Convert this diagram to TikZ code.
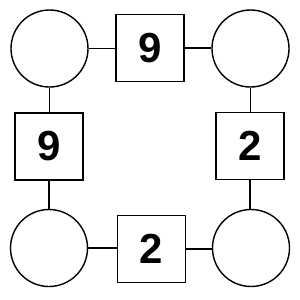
\documentclass[tikz,border=0pt]{standalone}
\usepackage{fontspec}
\setmainfont{Liberation Sans}
\begin{document}
\begin{tikzpicture}[x=1pt,y=-1pt,
  circ/.style={draw,circle,line width=1.4pt,minimum size=77pt,inner sep=0pt},
  sq/.style={draw,rectangle,line width=1.4pt,minimum width=68pt,minimum height=67pt,inner sep=0pt,font=\fontsize{42}{42}\selectfont\bfseries},
  conn/.style={line width=1.4pt}]
\useasboundingbox (0,0) rectangle (300,300);
\node[circ] (c1) at (49.5,48.5) {};
\node[circ] (c2) at (250.5,48.5) {};
\node[circ] (c3) at (49,248) {};
\node[circ] (c4) at (251,248) {};
\node[sq] (s1) at (150,48) {9};
\node[sq] (s2) at (49,146.5) {9};
\node[sq] (s3) at (250,146) {2};
\node[sq] (s4) at (151.5,249) {2};
\draw[conn] (c1.east) -- (c1.east -| s1.west);
\draw[conn] (s1.east) -- (s1.east -| c2.west);
\draw[conn] (c1.south) -- (c1.south |- s2.north);
\draw[conn] (s2.south) -- (s2.south |- c3.north);
\draw[conn] (c2.south) -- (c2.south |- s3.north);
\draw[conn] (s3.south) -- (s3.south |- c4.north);
\draw[conn] (c3.east) -- (c3.east -| s4.west);
\draw[conn] (s4.east) -- (s4.east -| c4.west);
\end{tikzpicture}
\end{document}
